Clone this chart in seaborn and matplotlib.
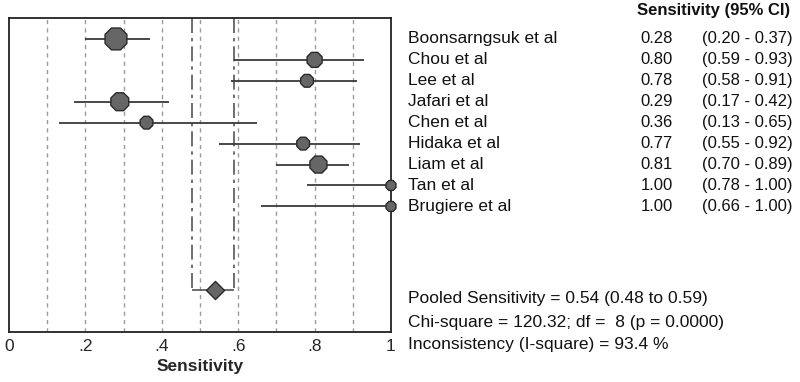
import matplotlib.pyplot as plt
import matplotlib.transforms as mtransforms
import pandas as pd
import seaborn as sns

# Data
studies = ['Boonsarngsuk et al', 'Chou et al', 'Lee et al', 'Jafari et al', 'Chen et al',
           'Hidaka et al', 'Liam et al', 'Tan et al', 'Brugiere et al']
sens = [0.28, 0.80, 0.78, 0.29, 0.36, 0.77, 0.81, 1.00, 1.00]
lower = [0.20, 0.59, 0.58, 0.17, 0.13, 0.55, 0.70, 0.78, 0.66]
upper = [0.37, 0.93, 0.91, 0.42, 0.65, 0.92, 0.89, 1.00, 1.00]
weights = [22, 14, 12, 17, 12, 12, 16, 10, 10]
pooled, pooled_lo, pooled_hi = 0.54, 0.48, 0.59
stats_lines = ['Pooled Sensitivity = 0.54 (0.48 to 0.59)',
               'Chi-square = 120.32; df =  8 (p = 0.0000)',
               'Inconsistency (I-square) = 93.4 %']
xticks = [0, 0.2, 0.4, 0.6, 0.8, 1.0]
xtick_labels = ['0', '.2', '.4', '.6', '.8', '1']

df = pd.DataFrame({'study': studies, 'sens': sens, 'lo': lower, 'hi': upper,
                   'weight': weights, 'row': range(1, len(studies) + 1)})
pooled_row = 13

sns.set_style('white')
plt.rcParams['font.family'] = ['Liberation Sans', 'DejaVu Sans']

fig = plt.figure(figsize=(8, 3.82), dpi=100)
ax = fig.add_axes([9 / 800, 1 - 332 / 382, 382 / 800, 314 / 382])

# background grid
for g in [0.1, 0.2, 0.3, 0.4, 0.5, 0.6, 0.7, 0.8, 0.9]:
    ax.axvline(g, color='#9a9a9a', lw=1.0, ls=(0, (3, 3)), zorder=0)

# pooled CI bracket
ax.vlines([pooled_lo, pooled_hi], 0, pooled_row, color='#555555', lw=1.2,
          ls=(0, (9, 3, 2, 3)), zorder=1)
ax.hlines(pooled_row, pooled_lo, pooled_hi, color='#555555', lw=1.2, zorder=1)

# study CIs
ax.hlines(df['row'], df['lo'], df['hi'], color='#3a3a3a', lw=1.3, zorder=2)
sns.scatterplot(data=df, x='sens', y='row', size='weight', sizes=(60, 290),
                size_norm=(10, 22), marker='8', color='#666666', edgecolor='#2a2a2a',
                linewidth=1.0, legend=False, ax=ax, zorder=3, clip_on=False)
ax.scatter([pooled], [pooled_row], marker='D', s=85, color='#666666',
           edgecolor='#2a2a2a', linewidth=1.0, zorder=3)

ax.set_xlim(0, 1)
ax.set_ylim(15, 0)
ax.set_yticks([])
ax.set_xticks(xticks)
ax.set_xticklabels(xtick_labels, fontsize=12.5)
ax.tick_params(axis='x', length=0, pad=5)
ax.set_xlabel('Sensitivity', fontsize=12.5, fontweight='bold', labelpad=4)
ax.set_ylabel('')
for s in ax.spines.values():
    s.set_color('#222222')
    s.set_linewidth(1.3)

# right-hand text
tr = mtransforms.blended_transform_factory(fig.transFigure, ax.transData)
for _, r in df.iterrows():
    ax.text(408 / 800, r['row'], r['study'], transform=tr, fontsize=12.5,
            va='center', ha='left', color='#111111')
    ax.text(673 / 800, r['row'], f"{r['sens']:.2f}", transform=tr, fontsize=12,
            va='center', ha='right', color='#111111')
    ax.text(702 / 800, r['row'], f"({r['lo']:.2f} - {r['hi']:.2f})", transform=tr,
            fontsize=12, va='center', ha='left', color='#111111')

fig.text(790 / 800, 1 - 10 / 382, 'Sensitivity (95% CI)', fontsize=12,
         fontweight='bold', ha='right', va='center', color='#111111')
for i, line in enumerate(stats_lines):
    fig.text(408 / 800, 1 - (299 + 23 * i) / 382, line, fontsize=12.5,
             ha='left', va='center', color='#111111')

fig.savefig('out.png', dpi=100)
